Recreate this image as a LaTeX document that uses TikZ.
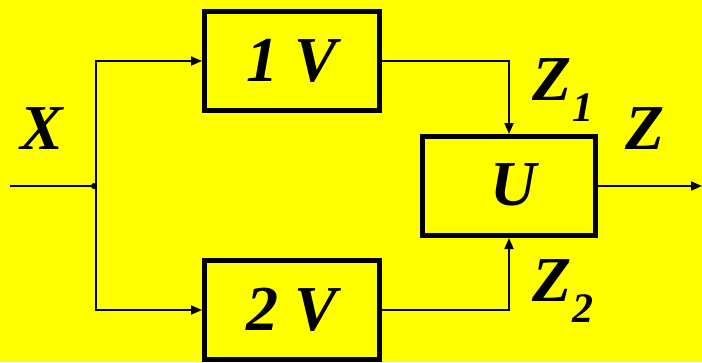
\documentclass[tikz,border=0pt]{standalone}
\usepackage{fontspec}
\setmainfont{Liberation Serif}
\usetikzlibrary{arrows.meta}
\definecolor{bg}{HTML}{FFFF00}
\begin{document}
\begin{tikzpicture}[x=1pt,y=-1pt,
  big/.style={font=\fontsize{64}{64}\selectfont\bfseries\itshape},
  blockbox/.style={draw=black,line width=5pt,minimum width=175pt,minimum height=99pt,inner sep=0pt,big},
  lbl/.style={inner sep=0pt,big},
  wire/.style={line width=2pt},
  arr/.style={wire,-{Triangle[length=11pt,width=9pt]}}]
  % canvas
  \fill[bg] (0,0) rectangle (702,362);
  \useasboundingbox (0,0) rectangle (702,362);
  % blocks
  \node[blockbox] (b1) at (292,61) {1 V};
  \node[blockbox] (b2) at (292,310) {2 V};
  \node[blockbox,minimum width=173pt] (bu) at (509,186) {};
  \node[lbl] (ut) at (514,185) {U};
  % signal labels
  \newcommand{\subdigit}[1]{\raisebox{-21pt}{\fontsize{42}{42}\selectfont #1}}
  \node[lbl] (lx) at (42,129) {X};
  \node[lbl] (lz1) at (563,90) {Z\subdigit{1}};
  \node[lbl] (lz2) at (563,291) {Z\subdigit{2}};
  \node[lbl] (lz) at (645,129) {Z};
  % wires
  \coordinate (in) at (10,186);
  \coordinate (j) at (96,186);
  \coordinate (out) at (702,186);
  \draw[wire] (in) -- (j);
  \fill (94,186) circle (3pt);
  \draw[arr] (j) |- (b1.west);
  \draw[arr] (j) |- (b2.west);
  \draw[arr] (b1.east) -| (bu.north);
  \draw[arr] (b2.east) -| (bu.south);
  \draw[arr] (bu.east) -- (out);
\end{tikzpicture}
\end{document}
